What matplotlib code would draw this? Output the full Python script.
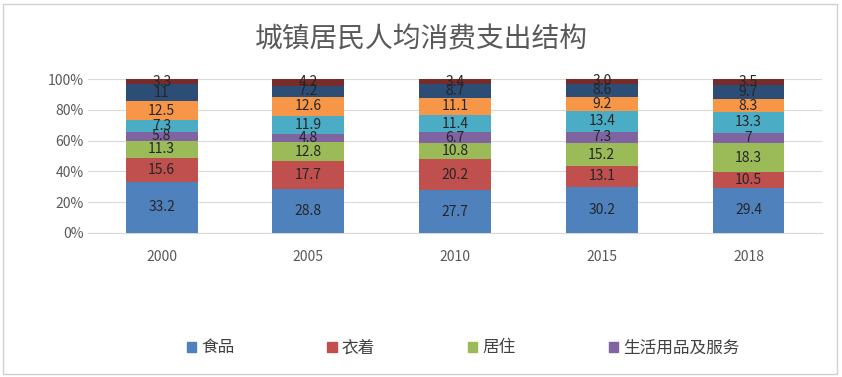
import numpy as np
import matplotlib
matplotlib.use("Agg")
import matplotlib.pyplot as plt
from matplotlib.patches import Patch, Rectangle

plt.rcParams['font.family'] = ['Noto Sans CJK SC', 'DejaVu Sans']

years = ['2000', '2005', '2010', '2015', '2018']
series_names = ['食品', '衣着', '居住', '生活用品及服务',
                '交通通信', '教育文化娱乐', '医疗保健', '其他']
food = [33.2, 28.8, 27.7, 30.2, 29.4]
clothing = [15.6, 17.7, 20.2, 13.1, 10.5]
housing = [11.3, 12.8, 10.8, 15.2, 18.3]
goods = [5.8, 4.8, 6.7, 7.3, 7]
transport = [7.3, 11.9, 11.4, 13.4, 13.3]
education = [12.5, 12.6, 11.1, 9.2, 8.3]
medical = [11.0, 7.2, 8.7, 8.6, 9.7]
other = [3.3, 4.2, 3.4, 3.0, 3.5]

colors = ['#4F81BD', '#C0504D', '#9BBB59', '#8064A2',
          '#4BACC6', '#F79646', '#2C4D75', '#772C2A']

data = np.array([food, clothing, housing, goods,
                 transport, education, medical, other])
pct = data / data.sum(axis=0) * 100

fig = plt.figure(figsize=(8.42, 3.77), dpi=100)
fig.patches.append(Rectangle((0.004, 0.008), 0.99, 0.982, transform=fig.transFigure,
                             fill=False, edgecolor='#D0D0D0', linewidth=1))
ax = fig.add_axes([0.105, 0.382, 0.871, 0.408])

x = np.arange(len(years))
bottom = np.zeros(len(years))
for i in range(len(series_names)):
    ax.bar(x, pct[i], 0.49, bottom=bottom, color=colors[i], zorder=3)
    for j in range(len(years)):
        v = data[i][j]
        lab = f'{v:.1f}' if i == len(series_names) - 1 else f'{v:g}'
        ax.text(x[j], bottom[j] + pct[i][j] / 2, lab, ha='center', va='center',
                fontsize=10, color='#262626', zorder=4)
    bottom += pct[i]

ax.set_xlim(-0.5, len(years) - 0.5)
ax.set_ylim(0, 100)
ax.set_yticks(range(0, 101, 20))
ax.set_yticklabels([f'{t}%' for t in range(0, 101, 20)])
ax.set_xticks(x)
ax.set_xticklabels(years)
ax.tick_params(axis='both', length=0, labelsize=10, colors='#595959')
ax.tick_params(axis='x', pad=12)
ax.grid(axis='y', color='#D9D9D9', linewidth=0.8, zorder=0)
for s in ['top', 'right', 'left']:
    ax.spines[s].set_visible(False)
ax.spines['bottom'].set_color('#D9D9D9')

fig.text(0.5, 0.895, '城镇居民人均消费支出结构', ha='center', va='center',
         fontsize=20, color='#595959')

handles = [Patch(color=colors[i], label=series_names[i]) for i in range(4)]
fig.legend(handles=handles, loc='center', bbox_to_anchor=(0.55, 0.077), ncol=4,
           frameon=False, fontsize=12, handlelength=0.55, handleheight=0.55,
           handletextpad=0.3, columnspacing=5.6, labelcolor='#404040')

fig.savefig('out.png', dpi=100)
